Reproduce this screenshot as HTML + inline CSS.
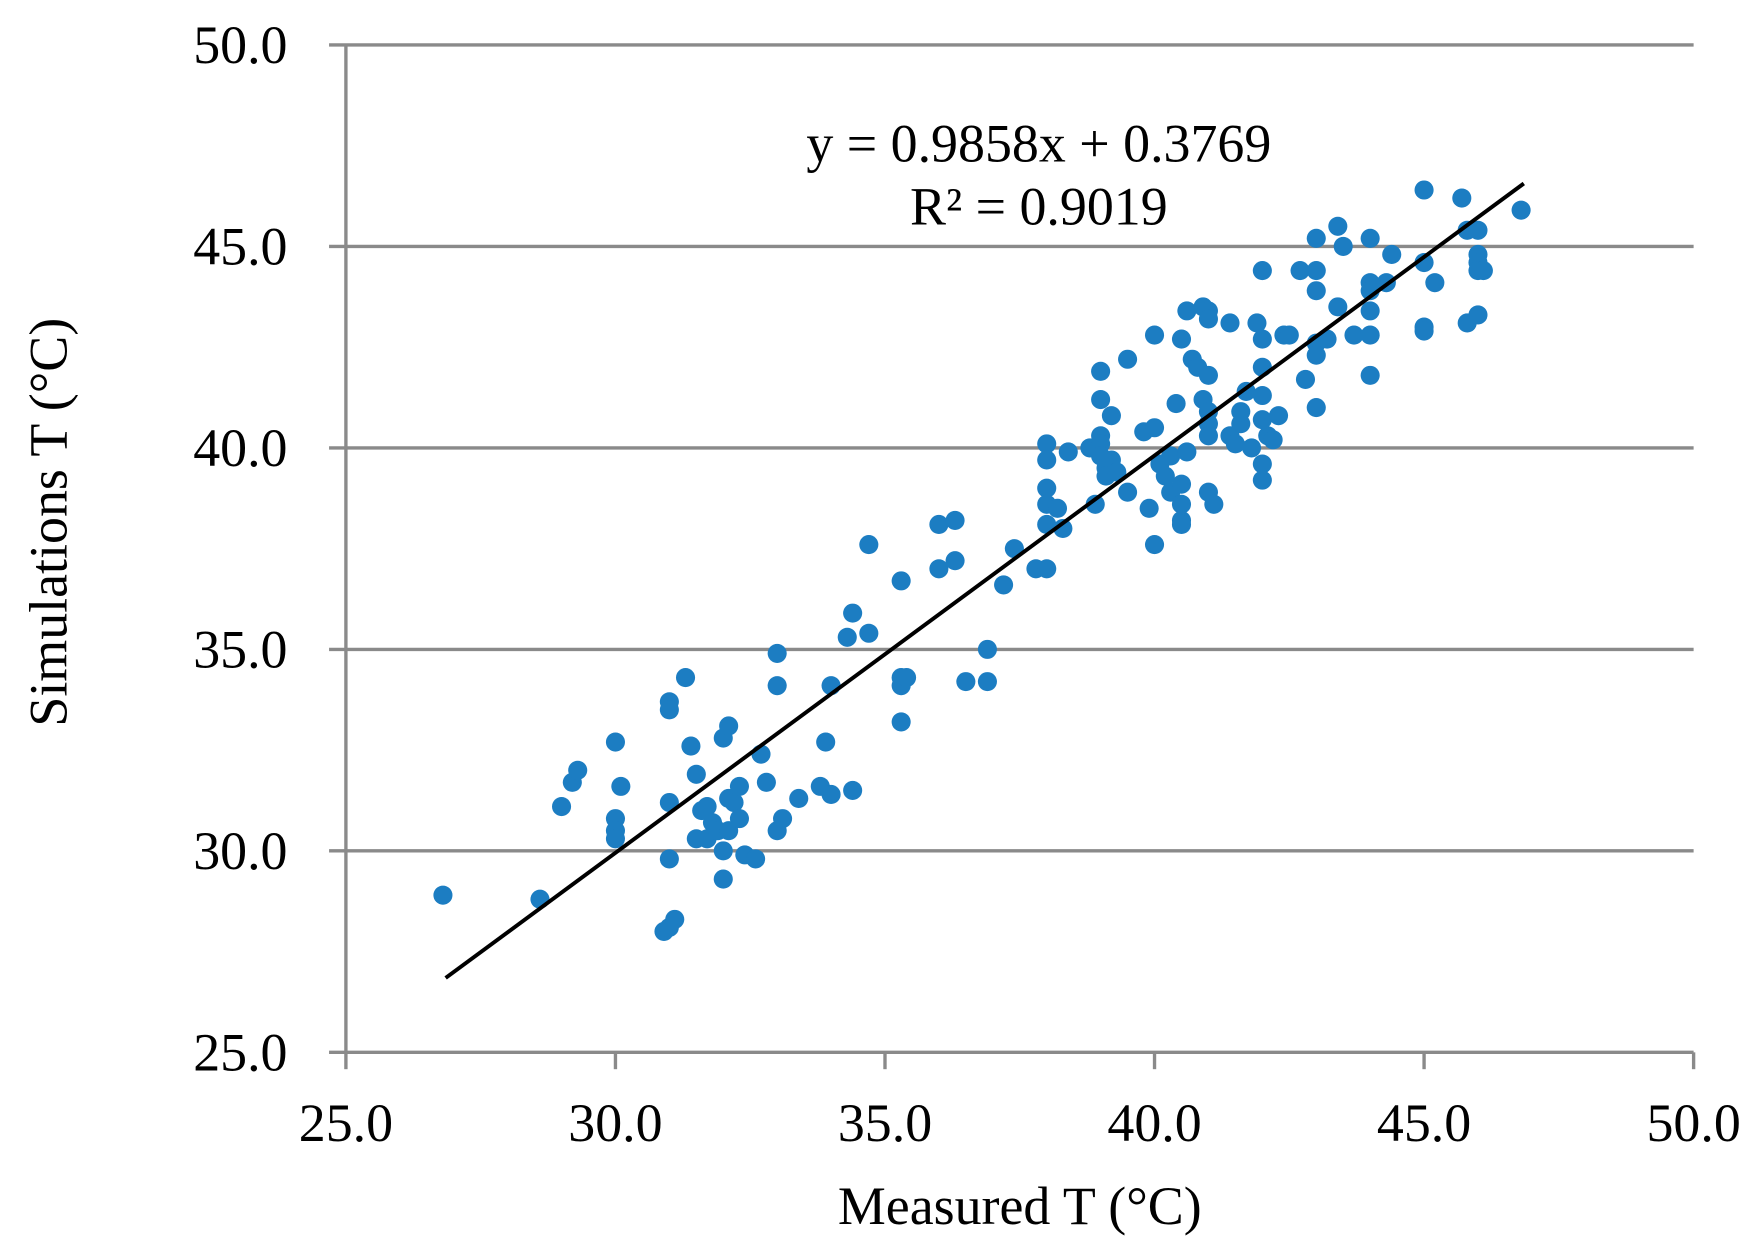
<!DOCTYPE html>
<html><head><meta charset="utf-8"><style>
html,body{margin:0;padding:0;background:#fff}
svg{display:block}
text{font-family:"Liberation Serif",serif;fill:#000}
</style></head><body>
<svg id="chart" width="1761" height="1259" viewBox="0 0 1568 1121" xmlns="http://www.w3.org/2000/svg">
<g id="grid"></g>
<g id="axes"></g>
<g id="pts"></g>
<g id="fit"></g>
<text x="925" y="144" font-size="48" text-anchor="middle">y = 0.9858x + 0.3769</text>
<text x="925" y="200" font-size="48" text-anchor="middle">R² = 0.9019</text>
<text x="908" y="1090" font-size="48" text-anchor="middle">Measured T (°C)</text>
<text transform="translate(59,465) rotate(-90)" font-size="48" text-anchor="middle">Simulations T (°C)</text>
</svg>
<script>
const xTicks=[25,30,35,40,45,50];
const yTicks=[25,30,35,40,45,50];
const measured=[26.8,28.6,29.0,29.2,29.3,30.0,30.1,30.0,30.0,30.0,30.9,31.0,31.1,31.0,31.0,31.0,31.0,31.3,31.4,31.5,31.5,31.6,31.7,31.7,31.8,31.9,32.1,32.0,32.0,32.0,32.1,32.1,32.2,32.3,32.3,32.4,32.6,32.7,32.8,33.0,33.1,33.0,33.0,33.4,33.8,33.9,34.0,34.0,34.3,34.4,34.4,34.7,34.7,35.3,35.3,35.3,35.4,35.3,36.0,36.0,36.3,36.3,36.5,36.9,36.9,37.2,37.4,37.8,38.0,38.0,38.0,38.0,38.0,38.0,38.2,38.3,38.4,38.8,38.9,39.0,39.0,39.0,39.0,39.0,39.1,39.2,39.1,39.2,39.3,39.5,39.5,39.8,39.9,40.0,40.0,40.0,40.1,40.2,40.3,40.3,40.4,40.5,40.5,40.5,40.5,40.5,40.6,40.6,40.7,40.8,40.9,40.9,41.0,41.0,41.0,41.0,41.0,41.0,41.0,41.1,41.4,41.4,41.5,41.6,41.6,41.7,41.8,41.9,42.0,42.0,42.0,42.0,42.0,42.0,42.0,42.1,42.2,42.3,42.4,42.5,42.7,42.8,43.0,43.0,43.0,43.0,43.0,43.0,43.2,43.4,43.4,43.5,43.7,44.0,44.0,44.0,44.0,44.0,44.0,44.3,44.4,45.0,45.0,45.0,45.0,45.2,45.7,45.8,45.8,46.0,46.0,46.0,46.0,46.1,46.0,46.8];
const simulated=[28.9,28.8,31.1,31.7,32.0,32.7,31.6,30.8,30.5,30.3,28.0,28.1,28.3,29.8,31.2,33.7,33.5,34.3,32.6,31.9,30.3,31.0,30.3,31.1,30.7,30.5,30.5,30.0,29.3,32.8,33.1,31.3,31.2,31.6,30.8,29.9,29.8,32.4,31.7,30.5,30.8,34.9,34.1,31.3,31.6,32.7,31.4,34.1,35.3,35.9,31.5,37.6,35.4,36.7,34.3,34.1,34.3,33.2,38.1,37.0,38.2,37.2,34.2,35.0,34.2,36.6,37.5,37.0,37.0,40.1,39.7,39.0,38.6,38.1,38.5,38.0,39.9,40.0,38.6,40.3,40.1,41.9,41.2,39.8,39.5,39.7,39.3,40.8,39.4,38.9,42.2,40.4,38.5,37.6,40.5,42.8,39.6,39.3,39.8,38.9,41.1,38.2,39.1,42.7,38.1,38.6,39.9,43.4,42.2,42.0,41.2,43.5,43.4,43.2,41.8,40.9,40.6,40.3,38.9,38.6,43.1,40.3,40.1,40.6,40.9,41.4,40.0,43.1,39.2,39.6,42.0,44.4,42.7,41.3,40.7,40.3,40.2,40.8,42.8,42.8,44.4,41.7,45.2,44.4,43.9,42.6,42.3,41.0,42.7,45.5,43.5,45.0,42.8,45.2,44.1,43.9,43.4,42.8,41.8,44.1,44.8,46.4,44.6,43.0,42.9,44.1,46.2,45.4,43.1,45.4,44.8,44.6,44.4,44.4,43.3,45.9];
const fitSlope=0.9858, fitIntercept=0.3769, fitRange=[26.85,46.85];
const NS='http://www.w3.org/2000/svg';
const X0=308,X1=1508,Y0=937,Y1=40;
const sx=v=>X0+(v-25)/25*(X1-X0);
const sy=v=>Y0-(v-25)/25*(Y0-Y1);
function mk(tag,attrs,parent){const e=document.createElementNS(NS,tag);for(const k in attrs)e.setAttribute(k,attrs[k]);parent.appendChild(e);return e;}
const grid=document.getElementById('grid'),axes=document.getElementById('axes'),pts=document.getElementById('pts'),fit=document.getElementById('fit');
yTicks.forEach(t=>{
  const l=mk('line',{x1:293,x2:X1,y1:sy(t),y2:sy(t),stroke:'#8a8a8a','stroke-width':3},grid);
  
  
  const tx=mk('text',{x:256,y:sy(t)+16,'font-size':48,'text-anchor':'end'},axes);
  tx.textContent=t.toFixed(1);
  
  
});
const ya=mk('line',{x1:X0,x2:X0,y1:Y1,y2:Y0,stroke:'#8a8a8a','stroke-width':3},axes);


xTicks.forEach(t=>{
  const l=mk('line',{x1:sx(t),x2:sx(t),y1:Y0,y2:952,stroke:'#8a8a8a','stroke-width':3},axes);
  
  
  const tx=mk('text',{x:sx(t),y:1016,'font-size':48,'text-anchor':'middle'},axes);
  tx.textContent=t.toFixed(1);
  
  
});
measured.forEach((m,i)=>{
  const c=mk('circle',{cx:sx(m),cy:sy(simulated[i]),r:8.5,fill:'#1c7dc2'},pts);
  
  
});
const fl=mk('line',{x1:sx(fitRange[0]),y1:sy(fitSlope*fitRange[0]+fitIntercept),x2:sx(fitRange[1]),y2:sy(fitSlope*fitRange[1]+fitIntercept),stroke:'#000','stroke-width':3.5},fit);


</script>
</body></html>
